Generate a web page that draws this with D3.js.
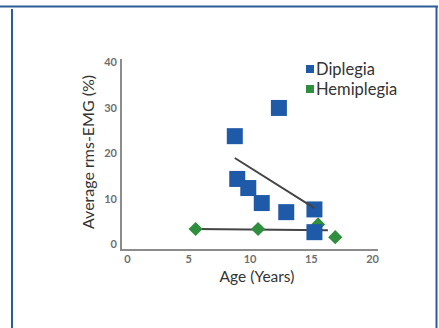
<!DOCTYPE html>
<html>
<head>
<meta charset="utf-8">
<script src="https://cdn.jsdelivr.net/npm/d3@7"></script>
<style>
  html, body { margin: 0; padding: 0; background: #fff; }
  svg { display: block; }
</style>
</head>
<body>
<svg id="chart" width="439" height="328"></svg>
<script>
// Age (years) and average rms-EMG (%) per subject
const diplegiaAge = [8.8, 12.4, 9.0, 9.9, 11.0, 13.0, 15.3, 15.3];
const diplegiaEmg = [23.7, 29.9, 14.3, 12.3, 9.0, 7.0, 7.6, 2.6];
const hemiplegiaAge = [5.6, 10.7, 15.6, 17.0];
const hemiplegiaEmg = [3.3, 3.3, 4.3, 1.5];

// Linear trend lines, given by their end points
const diplegiaTrendAge = [8.8, 15.3];
const diplegiaTrendEmg = [18.9, 7.9];
const hemiplegiaTrendAge = [5.6, 16.4];
const hemiplegiaTrendEmg = [3.3, 3.0];

const xTicks = [0, 5, 10, 15, 20];
const yTicks = [0, 10, 20, 30, 40];
const seriesNames = ["Diplegia", "Hemiplegia"];

const blue = "#1f5aa9";
const green = "#2f8f3f";
const font = "Lato, 'Open Sans', sans-serif";

const svg = d3.select("#chart");

// Panel frame
const frame = svg.append("g").attr("stroke", "#2d5d98").attr("stroke-width", 2).attr("fill", "none");
frame.append("line").attr("x1", 0).attr("x2", 438).attr("y1", 6.5).attr("y2", 6.5);
frame.append("line").attr("x1", 12).attr("x2", 12).attr("y1", 9).attr("y2", 328);
frame.append("line").attr("x1", 436.5).attr("x2", 436.5).attr("y1", 6).attr("y2", 328);

const x = d3.scaleLinear().domain([0, 20]).range([127, 372]);
const y = d3.scaleLinear().domain([0, 40]).range([244, 62]);

// Axis lines
const axisColor = "#8c8c8c";
svg.append("line").attr("x1", 121).attr("x2", 121).attr("y1", 59).attr("y2", 250)
  .attr("stroke", axisColor).attr("stroke-width", 2);
svg.append("line").attr("x1", 120).attr("x2", 378).attr("y1", 250).attr("y2", 250)
  .attr("stroke", axisColor).attr("stroke-width", 2);

// Tick labels
const xAxis = svg.append("g").attr("transform", "translate(0,250)")
  .call(d3.axisBottom(x).tickValues(xTicks).tickSize(0).tickPadding(5).tickFormat(d3.format("d")));
const yAxis = svg.append("g").attr("transform", "translate(121,0)")
  .call(d3.axisLeft(y).tickValues(yTicks).tickSize(0).tickPadding(4).tickFormat(d3.format("d")));
[xAxis, yAxis].forEach(a => {
  a.select(".domain").remove();
  a.selectAll("text").attr("font-family", font).attr("font-size", 11)
    .attr("font-weight", "bold").attr("fill", "#6e6e6e");
});

// Axis titles
svg.append("text").attr("x", 257).attr("y", 282).attr("text-anchor", "middle")
  .attr("font-family", font).attr("font-size", 15.5).attr("fill", "#333")
  .text("Age (Years)");
svg.append("text").attr("transform", "translate(94,152) rotate(-90)").attr("text-anchor", "middle")
  .attr("font-family", font).attr("font-size", 16).attr("fill", "#333")
  .text("Average rms-EMG (%)");

const line = d3.line().x(d => x(d[0])).y(d => y(d[1]));
const trendColor = "#444";

// Hemiplegia trend and markers
svg.append("path").datum(d3.zip(hemiplegiaTrendAge, hemiplegiaTrendEmg))
  .attr("d", line).attr("stroke", trendColor).attr("stroke-width", 2).attr("fill", "none");
const diamond = d3.symbol().type(d3.symbolSquare).size(100);
svg.append("g").selectAll("path").data(d3.zip(hemiplegiaAge, hemiplegiaEmg)).join("path")
  .attr("d", diamond)
  .attr("transform", d => `translate(${x(d[0])},${y(d[1])}) rotate(45)`)
  .attr("fill", green);

// Diplegia markers and trend
const sq = 16;
svg.append("g").selectAll("rect").data(d3.zip(diplegiaAge, diplegiaEmg)).join("rect")
  .attr("x", d => x(d[0]) - sq / 2).attr("y", d => y(d[1]) - sq / 2)
  .attr("width", sq).attr("height", sq).attr("fill", blue);
svg.append("path").datum(d3.zip(diplegiaTrendAge, diplegiaTrendEmg))
  .attr("d", line).attr("stroke", trendColor).attr("stroke-width", 2).attr("fill", "none");

// Legend
const legend = svg.append("g").attr("transform", "translate(306,0)");
seriesNames.forEach((name, i) => {
  const cy = 69 + i * 20;
  legend.append("rect").attr("x", 0).attr("y", cy - 4).attr("width", 8).attr("height", 8)
    .attr("fill", i === 0 ? blue : green);
  legend.append("text").attr("x", 10).attr("y", cy + 5.5)
    .attr("font-family", font).attr("font-size", 16.5).attr("fill", "#333")
    .text(name);
});
</script>
</body>
</html>
